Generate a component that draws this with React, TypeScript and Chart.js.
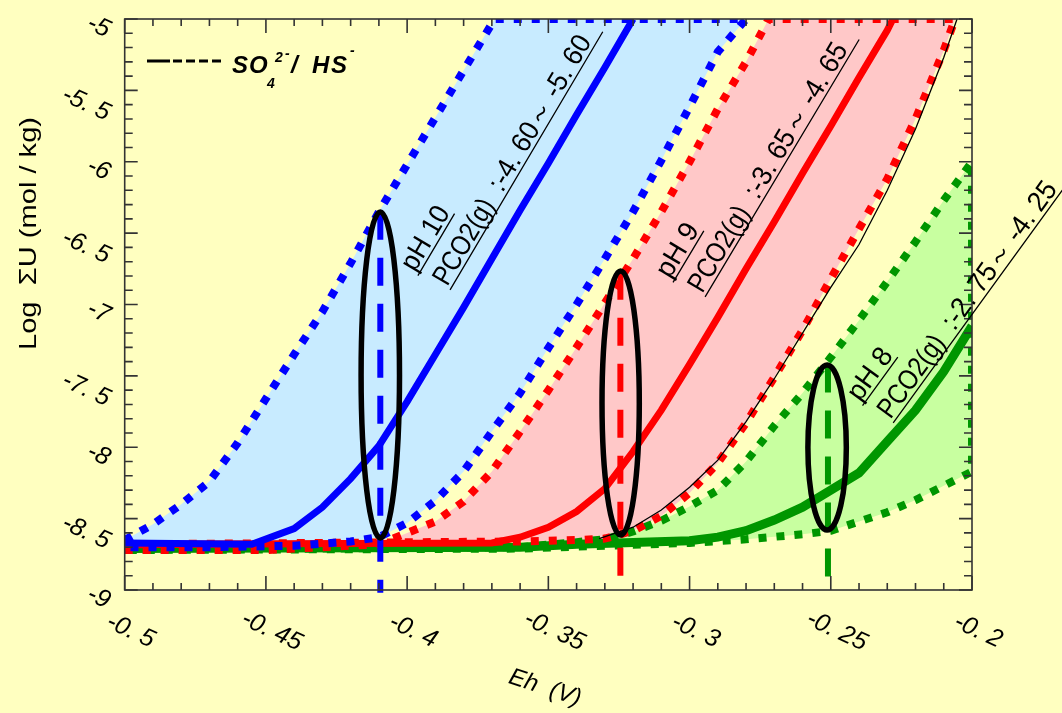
import React, { useEffect, useRef } from 'react';
import { Chart, registerables } from 'chart.js';

Chart.register(...registerables);

const W = 1062;
const H = 713;
const X_MIN = -0.5;
const X_MAX = -0.2;
const Y_MIN = -9;
const Y_MAX = -5;

const BG = '#FFFFC0';
const BLUE = '#0000FF';
const RED = '#FF0000';
const GREEN = '#009600';
const BLUE_FILL = '#C8EBFF';
const RED_FILL = '#FFC8C8';
const GREEN_FILL = '#C8FFA0';

// tick labels
const xTickValues = [-0.5, -0.45, -0.4, -0.35, -0.3, -0.25, -0.2];
const xTickLabels = ['-0. 5', '-0. 45', '-0. 4', '-0. 35', '-0. 3', '-0. 25', '-0. 2'];
const yTickValues = [-5, -5.5, -6, -6.5, -7, -7.5, -8, -8.5, -9];
const yTickLabels = ['-5', '-5. 5', '-6', '-6. 5', '-7', '-7. 5', '-8', '-8. 5', '-9'];

// pH 10 (blue) region boundaries
const bLeftX = [-0.5, -0.49, -0.48, -0.47, -0.46, -0.45, -0.44, -0.43, -0.42, -0.41, -0.4, -0.39, -0.38, -0.369];
const bLeftY = [-8.65, -8.54, -8.4, -8.24, -7.97, -7.66, -7.35, -7.05, -6.71, -6.35, -6.02, -5.69, -5.36, -5.0];
const bRightX = [-0.5, -0.47, -0.44, -0.42, -0.41, -0.4, -0.39, -0.38, -0.37, -0.36, -0.35, -0.34, -0.33, -0.32, -0.31, -0.3, -0.29, -0.28];
const bRightY = [-8.7, -8.7, -8.69, -8.66, -8.63, -8.53, -8.375, -8.17, -7.89, -7.62, -7.305, -7.0, -6.68, -6.35, -5.99, -5.615, -5.23, -5.0];
const bSolidX = [-0.5, -0.455, -0.44, -0.43, -0.42, -0.41, -0.4, -0.39, -0.38, -0.37, -0.36, -0.35, -0.34, -0.33, -0.32];
const bSolidY = [-8.67, -8.68, -8.57, -8.42, -8.22, -7.99, -7.68, -7.35, -7.02, -6.68, -6.34, -6.01, -5.67, -5.34, -5.0];

// pH 9 (red)
const rLeftX = [-0.5, -0.45, -0.41, -0.4, -0.39, -0.38, -0.37, -0.36, -0.35, -0.34, -0.33, -0.32, -0.31, -0.3, -0.29, -0.28, -0.272];
const rLeftY = [-8.72, -8.72, -8.68, -8.6, -8.52, -8.38, -8.17, -7.89, -7.6, -7.3, -6.99, -6.68, -6.35, -6.0, -5.63, -5.3, -5.0];
const rRightX = [-0.5, -0.36, -0.34, -0.33, -0.32, -0.31, -0.3, -0.29, -0.28, -0.27, -0.26, -0.25, -0.24, -0.23, -0.22, -0.21, -0.206];
const rRightY = [-8.68, -8.66, -8.65, -8.64, -8.585, -8.48, -8.32, -8.11, -7.83, -7.51, -7.18, -6.82, -6.47, -6.12, -5.7, -5.22, -5.0];
const rSolidX = [-0.5, -0.37, -0.36, -0.35, -0.34, -0.33, -0.32, -0.31, -0.3, -0.29, -0.28, -0.27, -0.26, -0.25, -0.24, -0.23, -0.228];
const rSolidY = [-8.68, -8.67, -8.63, -8.56, -8.45, -8.29, -8.03, -7.74, -7.42, -7.09, -6.75, -6.42, -6.08, -5.75, -5.41, -5.08, -5.0];

// pH 8 (green)
const gUpperX = [-0.5, -0.36, -0.34, -0.33, -0.32, -0.31, -0.3, -0.29, -0.28, -0.27, -0.26, -0.25, -0.24, -0.23, -0.22, -0.21, -0.2];
const gUpperY = [-8.72, -8.7, -8.665, -8.645, -8.59, -8.515, -8.415, -8.3, -8.1, -7.85, -7.62, -7.37, -7.11, -6.84, -6.56, -6.27, -6.0];
const gLowerX = [-0.5, -0.36, -0.3, -0.28, -0.26, -0.25, -0.24, -0.23, -0.22, -0.21, -0.2];
const gLowerY = [-8.72, -8.71, -8.67, -8.645, -8.61, -8.585, -8.52, -8.455, -8.37, -8.27, -8.17];
const gSolidX = [-0.5, -0.36, -0.34, -0.3, -0.29, -0.28, -0.27, -0.26, -0.25, -0.24, -0.23, -0.22, -0.21, -0.2];
const gSolidY = [-8.71, -8.7, -8.68, -8.655, -8.63, -8.585, -8.51, -8.42, -8.3, -8.18, -7.96, -7.74, -7.47, -7.15];

// SO4 2- / HS- boundary (thin black)
const soX = [-0.332, -0.32, -0.31, -0.3, -0.29, -0.28, -0.27, -0.26, -0.25, -0.24, -0.23, -0.22, -0.21, -0.2053];
const soY = [-8.64, -8.56, -8.44, -8.28, -8.09, -7.82, -7.52, -7.2, -6.88, -6.58, -6.2, -5.77, -5.27, -5.0];

// vertical dashed markers
const markerX = [-0.4095, -0.3245, -0.251];
const markerTop = [-6.35, -6.77, -7.42];
const markerBottom = [-9.02, -8.95, -9.0];
const markerColors = [BLUE, RED, GREEN];

// ellipses (center, radii in data units)
const ellipseCX = [-0.4095, -0.3244, -0.2513];
const ellipseCY = [-7.494, -7.69, -8.002];
const ellipseRX = [0.0068, 0.0066, 0.0068];
const ellipseRY = [1.142, 0.925, 0.578];

// annotations
const annotX = [-0.3848, -0.2945, -0.2279];
const annotY = [-6.898, -6.947, -7.83];
const annotAngle = [59.4, 59.1, 54];
const annotPH = ['pH 10', 'pH 9', 'pH 8'];
const annotPHWidth = [70, 58, 58];
const annotRange = [':-4. 60～ -5. 60', ':-3. 65～ -4. 65', ':-2. 75～ -4. 25'];

const pts = (xs: number[], ys: number[]) => xs.map((x, i) => ({ x, y: ys[i] }));

const dotted = (data: any[], color: string, fillColor: string) => ({
  data,
  borderColor: color,
  backgroundColor: fillColor,
  borderWidth: 8,
  borderDash: [8, 10],
  borderCapStyle: 'butt',
  borderJoinStyle: 'miter',
  fill: 'shape',
  pointRadius: 0,
  tension: 0,
});

const solid = (data: any[], color: string, width: number) => ({
  data,
  borderColor: color,
  borderWidth: width,
  borderCapStyle: 'butt',
  fill: false,
  pointRadius: 0,
  tension: 0,
});

const deg = Math.PI / 180;
const FONT = '"Liberation Sans", Arial, sans-serif';

function fitText(ctx: CanvasRenderingContext2D, text: string, x: number, y: number, target: number) {
  const w = ctx.measureText(text).width;
  ctx.save();
  ctx.translate(x, y);
  ctx.scale(target / w, 1);
  ctx.fillText(text, 0, 0);
  ctx.restore();
}

const decorPlugin = {
  id: 'decor',
  beforeDraw(chart: any) {
    const { ctx } = chart;
    ctx.save();
    ctx.fillStyle = BG;
    ctx.fillRect(0, 0, chart.width, chart.height);
    ctx.restore();
  },
  afterDatasetsDraw(chart: any) {
    const { ctx, chartArea: a } = chart;
    const xs = chart.scales.x;
    const ys = chart.scales.y;
    ctx.save();

    // ellipses
    ctx.strokeStyle = '#000';
    ctx.lineWidth = 5.5;
    for (let i = 0; i < ellipseCX.length; i++) {
      const cx = xs.getPixelForValue(ellipseCX[i]);
      const cy = ys.getPixelForValue(ellipseCY[i]);
      const rx = Math.abs(xs.getPixelForValue(ellipseCX[i] + ellipseRX[i]) - cx);
      const ry = Math.abs(ys.getPixelForValue(ellipseCY[i] + ellipseRY[i]) - cy);
      ctx.beginPath();
      ctx.ellipse(cx, cy, rx, ry, 0, 0, Math.PI * 2);
      ctx.stroke();
    }

    // frame
    ctx.strokeStyle = '#333';
    ctx.lineWidth = 1.6;
    ctx.strokeRect(a.left, a.top, a.right - a.left, a.bottom - a.top);
    ctx.beginPath();
    for (let k = 0; k <= 30; k++) {
      const px = xs.getPixelForValue(X_MIN + k * 0.01);
      const len = k % 5 === 0 ? 14 : 7;
      ctx.moveTo(px, a.bottom);
      ctx.lineTo(px, a.bottom - len);
      ctx.moveTo(px, a.top);
      ctx.lineTo(px, a.top + len);
    }
    for (let k = 0; k <= 40; k++) {
      const py = ys.getPixelForValue(Y_MIN + k * 0.1);
      const len = k % 5 === 0 ? 13 : 8;
      ctx.moveTo(a.left, py);
      ctx.lineTo(a.left + len, py);
      ctx.moveTo(a.right, py);
      ctx.lineTo(a.right - len, py);
    }
    ctx.stroke();

    // tick labels
    ctx.fillStyle = '#000';
    ctx.font = 'italic 25px ' + FONT;
    ctx.textAlign = 'center';
    ctx.textBaseline = 'middle';
    const th = 25 * deg;
    xTickValues.forEach((v, i) => {
      const px = xs.getPixelForValue(v);
      ctx.save();
      ctx.translate(px + 6, a.bottom + 41);
      ctx.rotate(th);
      ctx.fillText(xTickLabels[i], 0, 0);
      ctx.restore();
    });
    yTickValues.forEach((v, i) => {
      const py = ys.getPixelForValue(v);
      const w = ctx.measureText(yTickLabels[i]).width;
      ctx.save();
      ctx.translate(a.left - 16 - (w / 2) * Math.cos(th), py + 3 + (w / 2) * Math.sin(th));
      ctx.rotate(th);
      ctx.fillText(yTickLabels[i], 0, 0);
      ctx.restore();
    });

    // axis titles
    ctx.font = '24px ' + FONT;
    const yTitle = 'Log  ΣU (mol / kg)';
    const yw = ctx.measureText(yTitle).width;
    ctx.save();
    ctx.translate(29, 233.5);
    ctx.rotate(-Math.PI / 2);
    ctx.scale(233 / yw, 1);
    ctx.fillText(yTitle, 0, 0);
    ctx.restore();

    ctx.font = 'italic 24px ' + FONT;
    ctx.save();
    ctx.translate(545, 688);
    ctx.rotate(18 * deg);
    ctx.fillText('Eh  (V)', 0, 0);
    ctx.restore();

    // annotations
    ctx.textAlign = 'left';
    ctx.textBaseline = 'alphabetic';
    for (let i = 0; i < annotX.length; i++) {
      const px = xs.getPixelForValue(annotX[i]);
      const py = ys.getPixelForValue(annotY[i]);
      ctx.save();
      ctx.translate(px, py);
      ctx.rotate(-annotAngle[i] * deg);
      ctx.font = '28px ' + FONT;
      const phW = annotPHWidth[i];
      fitText(ctx, annotPH[i], -3, -39, phW);
      fitText(ctx, 'PCO2(g)', 1, -4, 95);
      fitText(ctx, annotRange[i], 110, -4, 176);
      ctx.lineWidth = 1.3;
      ctx.strokeStyle = '#000';
      ctx.beginPath();
      ctx.moveTo(-4, -35);
      ctx.lineTo(-4 + phW + 2, -35);
      ctx.moveTo(0, 0);
      ctx.lineTo(300, 0);
      ctx.stroke();
      ctx.restore();
    }

    // legend
    ctx.strokeStyle = '#000';
    ctx.lineWidth = 3;
    ctx.beginPath();
    ctx.moveTo(147, 61);
    ctx.lineTo(170, 61);
    ctx.stroke();
    ctx.setLineDash([9, 4]);
    ctx.beginPath();
    ctx.moveTo(173, 61);
    ctx.lineTo(223, 61);
    ctx.stroke();
    ctx.setLineDash([]);
    ctx.font = 'italic bold 24px ' + FONT;
    ctx.fillStyle = '#000';
    const big: [string, number, number][] = [['S', 232, 73], ['O', 249, 73], ['/', 291, 73], ['H', 312, 73], ['S', 331, 73]];
    big.forEach(([t, x, y]) => ctx.fillText(t, x, y));
    ctx.font = 'italic bold 14px ' + FONT;
    const small: [string, number, number][] = [['4', 267, 88], ['2', 275, 62], ['-', 285, 58], ['-', 350, 55]];
    small.forEach(([t, x, y]) => ctx.fillText(t, x, y));

    ctx.restore();
  },
};

export default function App() {
  const ref = useRef<HTMLCanvasElement>(null);
  useEffect(() => {
    const markers = markerX.map((x, i) => ({
      data: [{ x, y: markerTop[i] }, { x, y: markerBottom[i] }],
      borderColor: markerColors[i],
      borderWidth: 6,
      borderDash: [28, 18],
      borderCapStyle: 'butt',
      fill: false,
      pointRadius: 0,
      clip: false,
    }));
    const datasets: any[] = [
      ...markers,
      solid(pts(soX, soY), '#000', 1.3),
      solid(pts(bSolidX, bSolidY), BLUE, 7),
      dotted([...pts(bLeftX, bLeftY), ...pts(bRightX, bRightY).reverse()], BLUE, BLUE_FILL),
      solid(pts(rSolidX, rSolidY), RED, 7),
      dotted([...pts(rLeftX, rLeftY), ...pts(rRightX, rRightY).reverse()], RED, RED_FILL),
      solid(pts(gSolidX, gSolidY), GREEN, 9),
      dotted([...pts(gUpperX, gUpperY), ...pts(gLowerX, gLowerY).reverse()], GREEN, GREEN_FILL),
    ];
    const chart = new Chart(ref.current as HTMLCanvasElement, {
      type: 'line',
      data: { datasets },
      options: {
        animation: false,
        responsive: false,
        devicePixelRatio: 1,
        layout: { padding: { left: 124.7, right: 90, top: 19, bottom: 123 } },
        scales: {
          x: { type: 'linear', min: X_MIN, max: X_MAX, display: false },
          y: { type: 'linear', min: Y_MIN, max: Y_MAX, display: false },
        },
        plugins: {
          legend: { display: false },
          tooltip: { enabled: false },
          filler: { drawTime: 'beforeDatasetsDraw' },
        },
      } as any,
      plugins: [decorPlugin],
    });
    return () => chart.destroy();
  }, []);
  return (
    <canvas
      ref={ref}
      width={W}
      height={H}
      style={{ position: 'absolute', left: 0, top: 0, width: W, height: H, display: 'block' }}
    />
  );
}
